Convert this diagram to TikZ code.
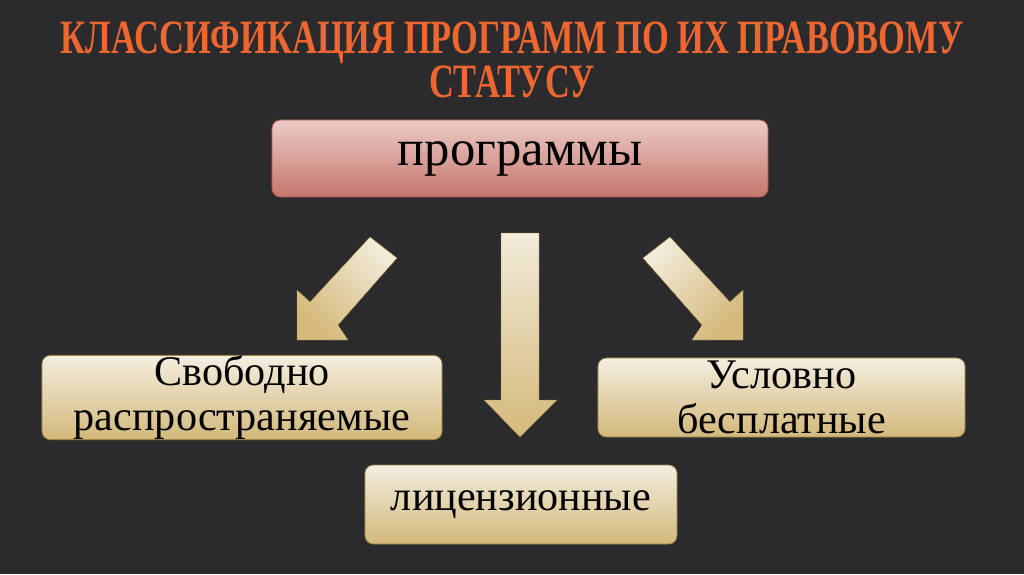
\documentclass[tikz,border=0pt]{standalone}
\usepackage{fontspec}
\setmainfont{Liberation Serif}
\usetikzlibrary{positioning,calc}

\definecolor{bgdark}{HTML}{2B2A2C}
\definecolor{titleorange}{HTML}{EE6630}
\definecolor{progtop}{HTML}{EBCBC7}
\definecolor{progbot}{HTML}{C4766C}
\definecolor{progedge}{HTML}{A8544A}
\definecolor{leaftop}{HTML}{F4EEE0}
\definecolor{leafbot}{HTML}{D2B87A}
\definecolor{leafedge}{HTML}{9C8244}
\definecolor{arrowtop}{HTML}{F2EBD9}
\definecolor{arrowbot}{HTML}{D4B97A}

\newcommand{\narrow}[1]{\scalebox{0.72}[1]{#1}}

\begin{document}
\begin{tikzpicture}[
        x=0.025cm, y=-0.025cm,
        every node/.style={font=\fontsize{30}{32}\selectfont, text=black},
        title/.style={
            font=\bfseries\fontsize{34}{29}\selectfont,
            text=titleorange,
            align=center,
            anchor=north,
            inner sep=0pt
        },
        topbox/.style={
            draw=progedge,
            line width=0.6pt,
            rounded corners=6pt,
            top color=progtop,
            bottom color=progbot,
            minimum width=12.4cm,
            minimum height=1.925cm,
            inner sep=0pt,
            font=\fontsize{36}{40}\selectfont
        },
        leaf/.style={
            draw=leafedge,
            line width=0.6pt,
            rounded corners=6pt,
            top color=leaftop,
            bottom color=leafbot,
            minimum height=1.975cm,
            inner sep=0pt,
            align=center
        },
        blockarrow/.style={draw=leafedge, line width=0.3pt}
    ]

    \useasboundingbox (0,0) rectangle (1024,574);
    \fill[bgdark] (0,0) rectangle (1024,574);

    % title
    \node[title] (head) at (512,22) {\narrow{КЛАССИФИКАЦИЯ ПРОГРАММ ПО ИХ ПРАВОВОМУ}\\\narrow{СТАТУСУ}};

    \node[topbox] (prog) at (520,158.5) {программы};

    \node[leaf, minimum width=10cm] (free) at (242,397.5) {Свободно\\распространяемые};
    \node[leaf, minimum width=9.175cm] (shareware) at (781.5,397.5) {Условно\\бесплатные};
    \node[leaf, minimum width=7.8cm] (lic) at (521,504.5) {лицензионные};

    % block arrows
    \shade[blockarrow, top color=arrowtop, bottom color=arrowbot, shading angle=-45]
        (370,237) -- (397,258) -- (338,325) -- (348,340) -- (297,340)
        -- (297,290) -- (310,302) -- cycle;
    \shade[blockarrow, top color=arrowtop, bottom color=arrowbot]
        (501,233) -- (539,233) -- (539,400) -- (557,400) -- (520,437)
        -- (484,400) -- (501,400) -- cycle;
    \shade[blockarrow, top color=arrowtop, bottom color=arrowbot, shading angle=45]
        (670,237) -- (643,258) -- (702,325) -- (692,340) -- (743,340)
        -- (743,290) -- (730,302) -- cycle;

\end{tikzpicture}
\end{document}
